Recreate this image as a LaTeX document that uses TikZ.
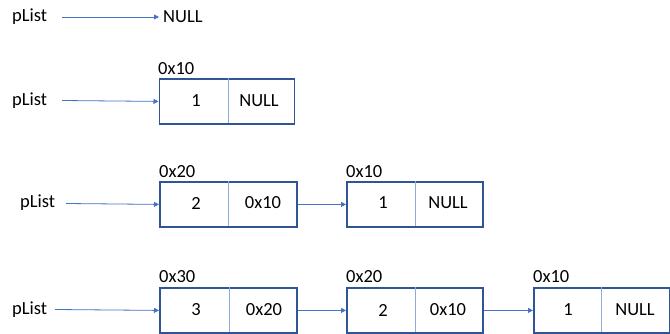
\documentclass[tikz,border=0pt]{standalone}
\usepackage{fontspec}
\setmainfont{Carlito}
\usetikzlibrary{arrows.meta}
\definecolor{boxblue}{HTML}{2F5597}
\definecolor{arrblue}{HTML}{4472C4}
\definecolor{divblue}{HTML}{8FAADC}
\tikzset{
  txt/.style={font=\fontsize{18.5}{21}\selectfont, inner sep=0pt},
  cell/.style={draw=boxblue, line width=1.8pt, minimum height=45pt, inner sep=0pt},
  ptr/.style={draw=arrblue, line width=0.8pt, -{Triangle[width=5pt,length=5pt]}},
  divider/.style={draw=divblue, line width=0.8pt}
}
\begin{document}
\begin{tikzpicture}[x=1pt,y=-1pt]
\useasboundingbox (0,0) rectangle (670,333);
% row 1
\node[txt, anchor=west] (p1) at (12,17) {pList};
\node[txt, anchor=west, inner xsep=4pt] (n1) at (159,17) {NULL};
\draw[ptr] (62,17) coordinate (s1) -- (n1.west);
% row 2
\node[txt, anchor=west] (p2) at (12,101) {pList};
\node[cell, minimum width=135pt, anchor=north west] (b21) at (158.5,78) {};
\draw[divider] (228,78) -- (228,123);
\node[txt] (v21) at (196,101) {1};
\node[txt] (a21) at (259,101) {NULL};
\node[txt, anchor=base west] (l21) at (158,74.5) {0x10};
\draw[ptr] (62,100.5) coordinate (s2) -- (b21.west);
% row 3
\node[txt, anchor=west] (p3) at (20,203) {pList};
\node[cell, minimum width=137pt, anchor=north west] (b31) at (159,181) {};
\node[cell, minimum width=136pt, anchor=north west] (b32) at (346,181) {};
\draw[divider] (228,181) -- (228,226);
\draw[divider] (415,181) -- (415,226);
\node[txt] (v31) at (196,203) {2};
\node[txt] (a31) at (263,203) {0x10};
\node[txt] (v32) at (383,203) {1};
\node[txt] (a32) at (448,203) {NULL};
\node[txt, anchor=base west] (l31) at (159,177) {0x20};
\node[txt, anchor=base west] (l32) at (346,177) {0x10};
\draw[ptr] (66,203.5) coordinate (s3) -- (b31.west);
\draw[ptr] (b31.east) -- (b32.west);
% row 4
\node[txt, anchor=west] (p4) at (12,310) {pList};
\node[cell, minimum width=137pt, anchor=north west] (b41) at (159,287) {};
\node[cell, minimum width=136pt, anchor=north west] (b42) at (346,287) {};
\node[cell, minimum width=136pt, anchor=north west] (b43) at (533,287) {};
\draw[divider] (229,287) -- (229,332);
\draw[divider] (415,287) -- (415,332);
\draw[divider] (601,287) -- (601,332);
\node[txt] (v41) at (196,310) {3};
\node[txt] (a41) at (264,310) {0x20};
\node[txt] (v42) at (383,310) {2};
\node[txt] (a42) at (448,310) {0x10};
\node[txt] (v43) at (568,310) {1};
\node[txt] (a43) at (635,310) {NULL};
\node[txt, anchor=base west] (l41) at (159,282) {0x30};
\node[txt, anchor=base west] (l42) at (346,282) {0x20};
\node[txt, anchor=base west] (l43) at (533,282) {0x10};
\draw[ptr] (55,309.5) coordinate (s4) -- (b41.west);
\draw[ptr] (b41.east) -- (b42.west);
\draw[ptr] (b42.east) -- (b43.west);
\end{tikzpicture}
\end{document}
